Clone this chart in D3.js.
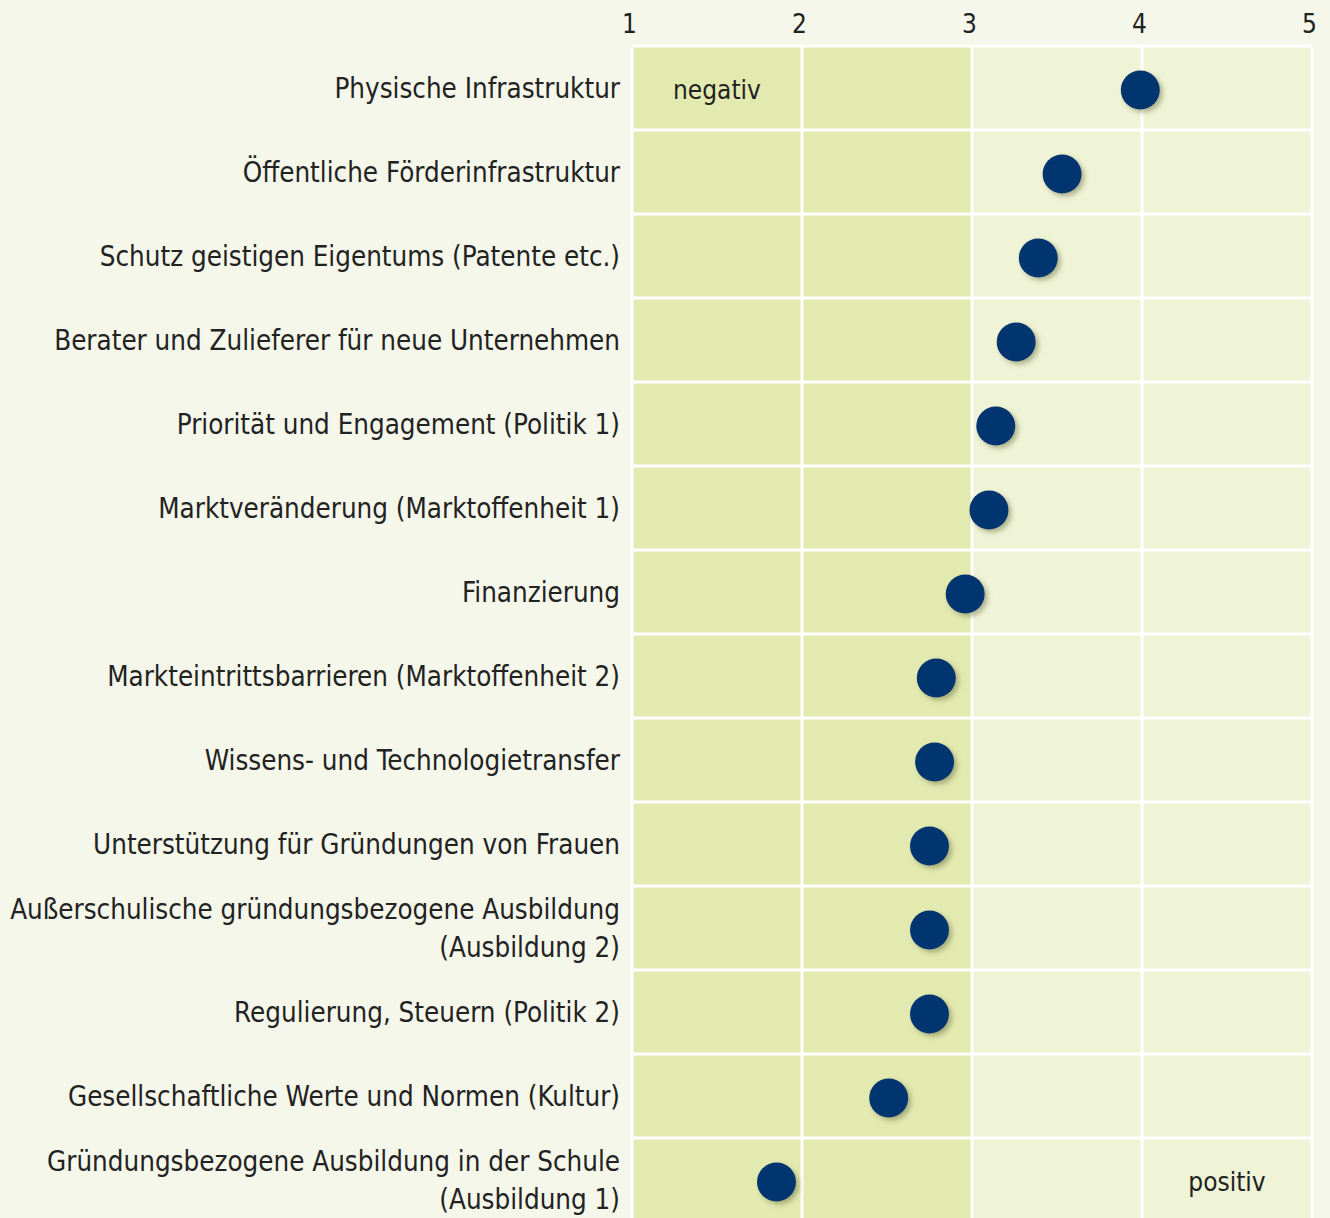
<!DOCTYPE html>
<html>
<head>
<meta charset="utf-8">
<script src="https://cdn.jsdelivr.net/npm/d3@7"></script>
<style>
  html, body { margin: 0; padding: 0; background: #f5f7ea; }
  svg { display: block; }
  text { font-family: "Liberation Sans Narrow", "DejaVu Sans Condensed", "Roboto", sans-serif; fill: #222; }
</style>
</head>
<body>
<div id="chart"></div>
<script>
const categories = [
    ["Physische Infrastruktur"],
    ["Öffentliche Förderinfrastruktur"],
    ["Schutz geistigen Eigentums (Patente etc.)"],
    ["Berater und Zulieferer für neue Unternehmen"],
    ["Priorität und Engagement (Politik 1)"],
    ["Marktveränderung (Marktoffenheit 1)"],
    ["Finanzierung"],
    ["Markteintrittsbarrieren (Marktoffenheit 2)"],
    ["Wissens- und Technologietransfer"],
    ["Unterstützung für Gründungen von Frauen"],
    ["Außerschulische gründungsbezogene Ausbildung", "(Ausbildung 2)"],
    ["Regulierung, Steuern (Politik 2)"],
    ["Gesellschaftliche Werte und Normen (Kultur)"],
    ["Gründungsbezogene Ausbildung in der Schule", "(Ausbildung 1)"],
];
const scores = [3.99, 3.53, 3.39, 3.26, 3.14, 3.10, 2.96, 2.79, 2.78, 2.75, 2.75, 2.75, 2.51, 1.85];
const tickValues = [1, 2, 3, 4, 5];
const zones = [
    {from: 1, to: 3, label: "negativ"},
    {from: 3, to: 5, label: "positiv"},
];

const width = 1330;
const height = 1218;
const margin = {top: 46, left: 632, right: 18};
const rowHeight = 84;

const svg = d3.select("#chart")
    .append("svg")
    .attr("width", width)
    .attr("height", height);

const defs = svg.append("defs");
const shadow = defs.append("filter")
    .attr("id", "dot-shadow")
    .attr("x", "-50%").attr("y", "-50%")
    .attr("width", "200%").attr("height", "200%");
shadow.append("feDropShadow")
    .attr("dx", 3).attr("dy", 3)
    .attr("stdDeviation", 2.5)
    .attr("flood-color", "#5a6030")
    .attr("flood-opacity", 0.45);

const xScale = d3.scaleLinear()
    .domain([1, 5])
    .range([margin.left, width - margin.right]);

const yScale = d3.scaleBand()
    .domain(d3.range(categories.length))
    .range([margin.top, margin.top + rowHeight * categories.length])
    .padding(0);

// Zone backgrounds
svg.append("g")
    .selectAll("rect")
    .data(zones)
    .join("rect")
    .attr("x", (d) => xScale(d.from))
    .attr("y", margin.top)
    .attr("width", (d) => xScale(d.to) - xScale(d.from))
    .attr("height", rowHeight * categories.length)
    .attr("fill", (_, i) => i === 0 ? "#e3eab0" : "#eff4d6");

// White grid lines
svg.append("g")
    .selectAll("line")
    .data(d3.range(categories.length + 1))
    .join("line")
    .attr("x1", xScale(1))
    .attr("x2", xScale(5))
    .attr("y1", (i) => margin.top + i * rowHeight)
    .attr("y2", (i) => margin.top + i * rowHeight)
    .attr("stroke", "#fff")
    .attr("stroke-width", 3);

svg.append("g")
    .selectAll("line")
    .data(tickValues)
    .join("line")
    .attr("x1", (d) => xScale(d))
    .attr("x2", (d) => xScale(d))
    .attr("y1", margin.top)
    .attr("y2", height)
    .attr("stroke", "#fff")
    .attr("stroke-width", 3);

// Top axis
const xAxis = d3.axisTop(xScale)
    .tickValues(tickValues)
    .tickSize(0)
    .tickPadding(0)
    .tickFormat(d3.format("d"));

svg.append("g")
    .attr("transform", `translate(-3,${margin.top - 13})`)
    .call(xAxis)
    .call((g) => g.select(".domain").remove())
    .call((g) => g.selectAll("text")
        .attr("font-size", 26)
        .attr("font-family", null)
        .attr("fill", "#222"));

// Zone labels
svg.append("text")
    .attr("x", (xScale(1) + xScale(2)) / 2)
    .attr("y", yScale(0) + yScale.bandwidth() / 2 + 2)
    .attr("dy", "0.35em")
    .attr("text-anchor", "middle")
    .attr("font-size", 26)
    .text(zones[0].label);

svg.append("text")
    .attr("x", (xScale(4) + xScale(5)) / 2)
    .attr("y", yScale(categories.length - 1) + yScale.bandwidth() / 2 + 2)
    .attr("dy", "0.35em")
    .attr("text-anchor", "middle")
    .attr("font-size", 26)
    .text(zones[1].label);

// Category labels
const labels = svg.append("g")
    .selectAll("text")
    .data(categories)
    .join("text")
    .attr("text-anchor", "end")
    .attr("font-size", 27.5)
    .attr("x", margin.left - 12)
    .attr("y", (_, i) => yScale(i) + yScale.bandwidth() / 2);

labels.selectAll("tspan")
    .data((d) => d.map((line, j) => ({line, j, n: d.length})))
    .join("tspan")
    .attr("x", margin.left - 12)
    .attr("dy", (d) => d.j === 0 ? `${0.35 - (d.n - 1) * 0.69}em` : "1.38em")
    .text((d) => d.line);

// Dots
svg.append("g")
    .selectAll("circle")
    .data(scores)
    .join("circle")
    .attr("cx", (d) => xScale(d))
    .attr("cy", (_, i) => yScale(i) + yScale.bandwidth() / 2 + 2)
    .attr("r", 19.5)
    .attr("fill", "#00346f")
    .attr("filter", "url(#dot-shadow)");
</script>
</body>
</html>
